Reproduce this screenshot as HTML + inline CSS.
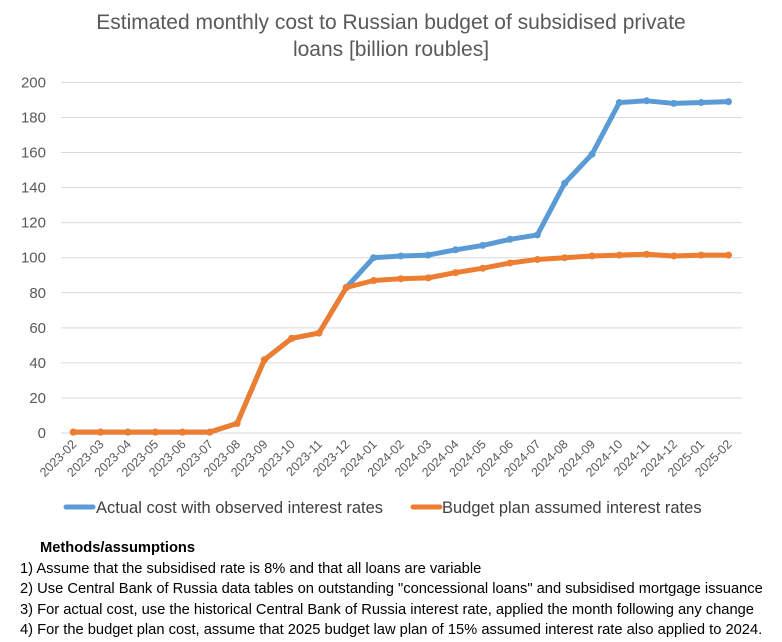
<!DOCTYPE html>
<html><head><meta charset="utf-8"><style>
body{margin:0;background:#fff;font-family:"Liberation Sans",sans-serif;}
.notes{position:absolute;left:20px;top:538px;font-size:14.7px;color:#000;line-height:20.5px;white-space:nowrap;}
</style></head><body>
<div style="position:relative;width:782px;height:642px;">
<svg id="chart" width="782" height="530" style="position:absolute;left:0;top:0">
<text x="391" y="29" text-anchor="middle" font-size="21" fill="#595959">Estimated monthly cost to Russian budget of subsidised private</text>
<text x="391" y="56" text-anchor="middle" font-size="21" fill="#595959">loans [billion roubles]</text>
<g id="grid"></g><g id="series"></g>
<g>
<line x1="66" y1="507" x2="93" y2="507" stroke="#5b9bd5" stroke-width="5" stroke-linecap="round"/>
<text x="96" y="513" font-size="16.5" fill="#404040">Actual cost with observed interest rates</text>
<line x1="413" y1="507" x2="440" y2="507" stroke="#ed7d31" stroke-width="5" stroke-linecap="round"/>
<text x="442" y="513" font-size="16.5" fill="#404040">Budget plan assumed interest rates</text>
</g>
</svg>
<div class="notes">
<div style="font-weight:bold;padding-left:20px">Methods/assumptions</div>
<div>1) Assume that the subsidised rate is 8% and that all loans are variable</div>
<div>2) Use Central Bank of Russia data tables on outstanding "concessional loans" and subsidised mortgage issuance</div>
<div>3) For actual cost, use the historical Central Bank of Russia interest rate, applied the month following any change</div>
<div>4) For the budget plan cost, assume that 2025 budget law plan of 15% assumed interest rate also applied to 2024.</div>
</div>
</div>
<script>
const categories=["2023-02","2023-03","2023-04","2023-05","2023-06","2023-07","2023-08","2023-09","2023-10","2023-11","2023-12","2024-01","2024-02","2024-03","2024-04","2024-05","2024-06","2024-07","2024-08","2024-09","2024-10","2024-11","2024-12","2025-01","2025-02"];
const actualValues=[0.5,0.5,0.5,0.5,0.5,0.5,5.5,41.8,54,57,83,100,101,101.5,104.5,107,110.5,113,142.5,159,188.5,189.5,188,188.5,189];
const budgetValues=[0.5,0.5,0.5,0.5,0.5,0.5,5.5,41.8,54,57,83,87,88,88.5,91.5,94,97,99,100,101,101.5,102,101,101.5,101.5];
const yTicks=[0,20,40,60,80,100,120,140,160,180,200];
const NS="http://www.w3.org/2000/svg";
const x0=73.3,dx=27.3,yBase=433,yScale=1.753;
function xPos(i){return x0+i*dx;}
function yPos(v){return yBase-v*yScale;}
const grid=document.getElementById('grid'),ser=document.getElementById('series');
yTicks.forEach(t=>{
 const l=document.createElementNS(NS,'line');
 
 
 l.setAttribute('x1',61);l.setAttribute('x2',742);l.setAttribute('y1',yPos(t));l.setAttribute('y2',yPos(t));
 l.setAttribute('stroke','#d9d9d9');l.setAttribute('stroke-width','1');grid.appendChild(l);
 const tx=document.createElementNS(NS,'text');
 
 
 tx.setAttribute('x',46);tx.setAttribute('y',yPos(t)+5);tx.setAttribute('text-anchor','end');
 tx.setAttribute('font-size','15');tx.setAttribute('fill','#595959');tx.textContent=t;grid.appendChild(tx);
});
categories.forEach((c,i)=>{
 const tx=document.createElementNS(NS,'text');
 
 
 const x=xPos(i)+4,y=445;
 tx.setAttribute('x',x);tx.setAttribute('y',y);tx.setAttribute('text-anchor','end');
 tx.setAttribute('font-size','12.5');tx.setAttribute('fill','#595959');
 tx.setAttribute('transform','rotate(-45 '+x+' '+y+')');tx.textContent=c;grid.appendChild(tx);
});
function drawSeries(vals,color,name){
 const p=document.createElementNS(NS,'polyline');
 
 
 p.setAttribute('points',vals.map((v,i)=>xPos(i)+','+yPos(v)).join(' '));
 p.setAttribute('fill','none');p.setAttribute('stroke',color);p.setAttribute('stroke-width','5');
 p.setAttribute('stroke-linejoin','round');ser.appendChild(p);
 vals.forEach((v,i)=>{
  const c=document.createElementNS(NS,'circle');
  
  
  c.setAttribute('cx',xPos(i));c.setAttribute('cy',yPos(v));c.setAttribute('r','3.5');c.setAttribute('fill',color);ser.appendChild(c);
 });
}
drawSeries(actualValues,'#5b9bd5','actual');
drawSeries(budgetValues,'#ed7d31','budget');
</script>
</body></html>
